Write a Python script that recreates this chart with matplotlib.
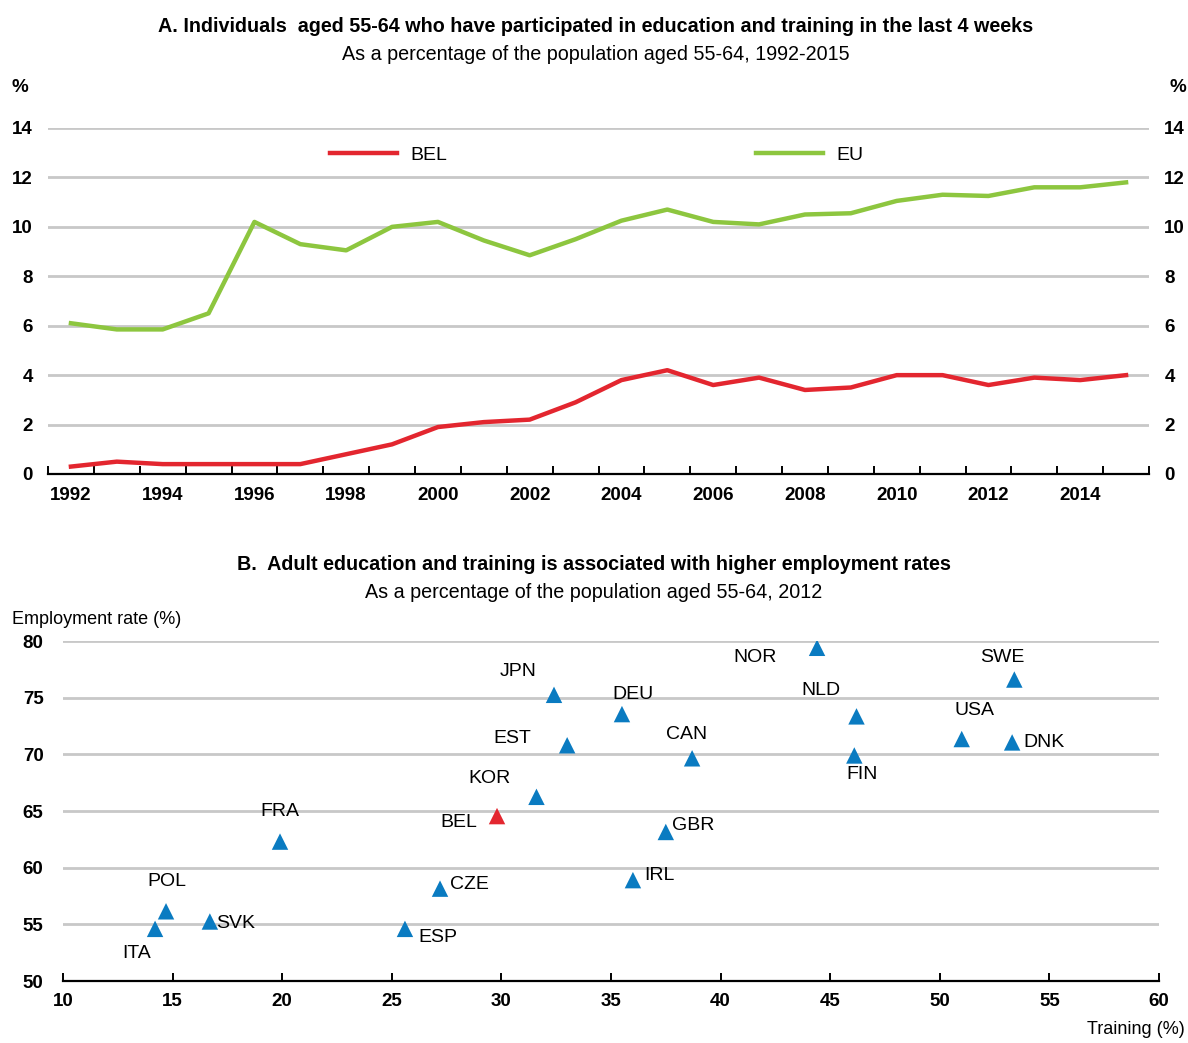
import matplotlib
matplotlib.use("Agg")
import matplotlib.pyplot as plt

plt.rcParams['font.family'] = ['Liberation Sans Narrow', 'Liberation Sans', 'DejaVu Sans']

# ---------------- data ----------------
years = list(range(1992, 2016))
bel_series = [0.3, 0.5, 0.4, 0.4, 0.4, 0.4, 0.8, 1.2, 1.9, 2.1, 2.2, 2.9,
              3.8, 4.2, 3.6, 3.9, 3.4, 3.5, 4.0, 4.0, 3.6, 3.9, 3.8, 4.0]
eu_series = [6.1, 5.85, 5.85, 6.5, 10.2, 9.3, 9.05, 10.0, 10.2, 9.45, 8.85, 9.5,
             10.25, 10.7, 10.2, 10.1, 10.5, 10.55, 11.05, 11.3, 11.25, 11.6, 11.6, 11.8]

countries = ['JPN', 'EST', 'KOR', 'BEL', 'FRA', 'CZE', 'POL', 'SVK', 'ITA', 'ESP',
             'NOR', 'SWE', 'DEU', 'NLD', 'USA', 'DNK', 'CAN', 'FIN', 'GBR', 'IRL']
training = [32.4, 33.0, 31.6, 29.8, 19.9, 27.2, 14.7, 16.7, 14.2, 25.6,
            44.4, 53.4, 35.5, 46.2, 51.0, 53.3, 38.7, 46.1, 37.5, 36.0]
employment = [75.25, 70.8, 66.25, 64.55, 62.3, 58.15, 56.15, 55.25, 54.6, 54.6,
              79.4, 76.6, 73.55, 73.35, 71.35, 71.05, 69.65, 69.9, 63.15, 58.9]

# label placement (offset in data units, horizontal alignment)
label_pos = {
    'JPN': (-1.65, 2.05, 'center'), 'EST': (-2.5, 0.6, 'center'),
    'KOR': (-2.15, 1.65, 'center'), 'BEL': (-1.75, -0.55, 'center'),
    'FRA': (0.0, 2.65, 'center'), 'CZE': (0.45, 0.35, 'left'),
    'POL': (0.05, 2.6, 'center'), 'SVK': (0.3, -0.2, 'left'),
    'ITA': (-0.85, -2.2, 'center'), 'ESP': (0.6, -0.8, 'left'),
    'NOR': (-2.85, -0.9, 'center'), 'SWE': (-0.55, 1.9, 'center'),
    'DEU': (0.5, 1.7, 'center'), 'NLD': (-1.6, 2.25, 'center'),
    'USA': (0.6, 2.5, 'center'), 'DNK': (0.5, 0.0, 'left'),
    'CAN': (-0.25, 2.1, 'center'), 'FIN': (0.35, -1.7, 'center'),
    'GBR': (0.3, 0.6, 'left'), 'IRL': (0.5, 0.4, 'left'),
}

RED = '#E3262F'
GREEN = '#8DC63F'
BLUE = '#0A7BC1'
GRID = '#C8C8C8'
TICK_FS = 13.5
LAB_FS = 14
TITLE_FS = 14.2

fig = plt.figure(figsize=(11.88, 10.43), dpi=100)

# ---------------- Panel A ----------------
axA = fig.add_axes([48/1188, 1-474/1043, (1149-48)/1188, (474-128)/1043])
xs = list(range(len(years)))
axA.plot(xs, bel_series, color=RED, lw=3.2, solid_joinstyle='round', label='BEL', zorder=3)
axA.plot(xs, eu_series, color=GREEN, lw=3.2, solid_joinstyle='round', label='EU', zorder=3)
axA.set_xlim(-0.5, len(years) - 0.5)
axA.set_ylim(0, 14)
axA.set_yticks(range(0, 15, 2))
axA.yaxis.grid(True, color=GRID, lw=2)
axA.set_axisbelow(True)
for s in ['top', 'left', 'right']:
    axA.spines[s].set_visible(False)
axA.spines['bottom'].set_linewidth(1.6)
axA.spines['bottom'].set_zorder(4)
axA.set_xticks([i - 0.5 for i in range(len(years) + 1)])
axA.set_xticklabels([])
axA.set_xticks([i for i, y in enumerate(years) if y % 2 == 0], minor=True)
axA.set_xticklabels([str(y) for y in years if y % 2 == 0], minor=True,
                    fontsize=TICK_FS, fontweight='bold')
axA.tick_params(axis='x', which='major', direction='in', length=6, width=1.4)
axA.tick_params(axis='x', which='minor', length=0, pad=9)
axA.tick_params(axis='y', length=0, labelsize=TICK_FS, pad=10, labelright=True)
for t in axA.yaxis.get_major_ticks():
    t.label1.set_fontweight('bold')
    t.label2.set_fontweight('bold')
    t.label2.set_fontsize(TICK_FS)
    t.set_pad(11)

em = LAB_FS * 100 / 72
legA = axA.legend(loc='center left', bbox_to_anchor=((330-48)/1101, (474-155)/346),
                  ncol=2, frameon=False, fontsize=LAB_FS, handlelength=67/em,
                  handletextpad=13/em, columnspacing=(752-443)/em,
                  borderpad=0, borderaxespad=0)

fig.text(20/1188, 1-88/1043, '%', ha='center', va='center', fontsize=TICK_FS, fontweight='bold')
fig.text(1178/1188, 1-88/1043, '%', ha='center', va='center', fontsize=TICK_FS, fontweight='bold')
fig.text(596/1188, 1-27/1043,
         'A. Individuals  aged 55-64 who have participated in education and training in the last 4 weeks',
         ha='center', va='center', fontsize=TITLE_FS, fontweight='bold')
fig.text(596/1188, 1-54/1043, 'As a percentage of the population aged 55-64, 1992-2015',
         ha='center', va='center', fontsize=TITLE_FS)

# ---------------- Panel B ----------------
axB = fig.add_axes([63/1188, 1-981/1043, (1159-63)/1188, (981-641)/1043])
colors = [RED if c == 'BEL' else BLUE for c in countries]
axB.scatter(training, employment, marker='^', s=140, c=colors, linewidths=0, zorder=3)
axB.set_xlim(10, 60)
axB.set_ylim(50, 80)
axB.set_xticks(range(10, 61, 5))
axB.set_yticks(range(50, 81, 5))
axB.yaxis.grid(True, color=GRID, lw=2)
axB.set_axisbelow(True)
for s in ['top', 'left', 'right']:
    axB.spines[s].set_visible(False)
axB.spines['bottom'].set_linewidth(1.6)
axB.spines['bottom'].set_zorder(4)
axB.tick_params(axis='x', direction='in', length=6, width=1.4, labelsize=TICK_FS, pad=9)
axB.tick_params(axis='y', length=0, labelsize=TICK_FS, pad=14)
for lab in axB.get_xticklabels() + axB.get_yticklabels():
    lab.set_fontweight('bold')

for c, x, y in zip(countries, training, employment):
    dx, dy, ha = label_pos[c]
    axB.text(x + dx, y + dy, c, ha=ha, va='center', fontsize=LAB_FS)

fig.text(12/1188, 1-619/1043, 'Employment rate (%)', ha='left', va='center', fontsize=13)
fig.text(1185/1188, 1-1030/1043, 'Training (%)', ha='right', va='center', fontsize=13)
fig.text(594/1188, 1-565/1043,
         'B.  Adult education and training is associated with higher employment rates',
         ha='center', va='center', fontsize=TITLE_FS, fontweight='bold')
fig.text(594/1188, 1-592/1043, 'As a percentage of the population aged 55-64, 2012',
         ha='center', va='center', fontsize=TITLE_FS)

fig.savefig('out.png', dpi=100)
